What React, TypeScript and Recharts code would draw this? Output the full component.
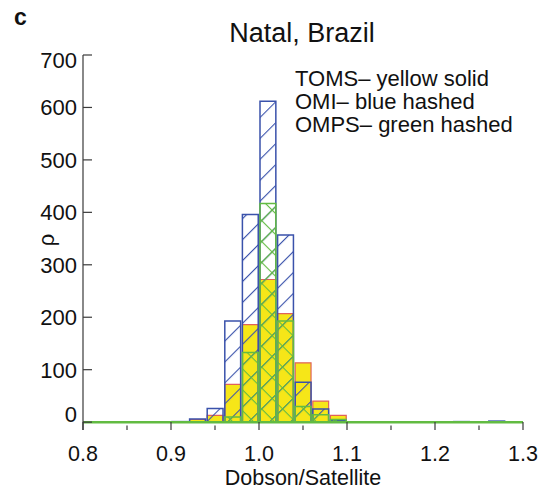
import { Bar, ComposedChart, ReferenceLine, XAxis, YAxis } from "recharts";

// bin centres (bin width 0.02)
const binCenters = [0.91, 0.93, 0.95, 0.97, 0.99, 1.01, 1.03, 1.05, 1.07, 1.09, 1.13, 1.23, 1.27];
const tomsCounts = [1, 5, 13, 72, 186, 272, 207, 113, 40, 13, 1, 0, 0];
const omiCounts = [1, 6, 26, 193, 396, 612, 357, 76, 25, 3, 0, 1, 2];
const ompsCounts = [0, 0, 0, 10, 133, 417, 193, 30, 14, 5, 0, 0, 0];

const xTicks = [0.8, 0.85, 0.9, 0.95, 1.0, 1.05, 1.1, 1.15, 1.2, 1.25, 1.3];
const xMajorTicks = [0.8, 0.9, 1.0, 1.1, 1.2, 1.3];
const yTicks = [0, 100, 200, 300, 400, 500, 600, 700];
const legendLines = ["TOMS– yellow solid", "OMI– blue hashed", "OMPS– green hashed"];

const data = binCenters.map((x, i) => ({ x, toms: tomsCounts[i], omi: omiCounts[i], omps: ompsCounts[i] }));

const FONT = "'Liberation Sans', Arial, Helvetica, sans-serif";
const AXIS = "#3a3a3a";
const BLUE = "#3a52ab";
const GREEN = "#62bb42";
const BAR_PX = 17.6; // 0.02 in x units at 880 px per unit

const isMajor = (v: number) => xMajorTicks.some((m) => Math.abs(m - v) < 1e-6);

const BottomTick = ({ x, y, payload }: any) => {
  const major = isMajor(payload.value);
  return (
    <g>
      <line x1={x} x2={x} y1={y} y2={y - (major ? 8 : 4.5)} stroke={AXIS} strokeWidth={1.2} />
      {major && (
        <text x={x} y={y + 31} textAnchor="middle" fontSize={21.5} fontFamily={FONT} fill="#111">
          {payload.value.toFixed(1)}
        </text>
      )}
    </g>
  );
};

const TopTick = ({ x, y, payload }: any) =>
  isMajor(payload.value) ? <line x1={x} x2={x} y1={y} y2={y + 8} stroke={AXIS} strokeWidth={1.2} /> : <g />;

const LeftTick = ({ x, y, payload }: any) => {
  const v = payload.value;
  const dy = v === 700 ? 13 : v === 0 ? 0 : 8;
  return (
    <g>
      <line x1={x} x2={x + 9} y1={y} y2={y} stroke={AXIS} strokeWidth={1.2} />
      <text x={x - 6} y={y + dy} textAnchor="end" fontSize={22} fontFamily={FONT} fill="#111">
        {v}
      </text>
    </g>
  );
};

const RightTick = ({ x, y }: any) => <line x1={x} x2={x - 8} y1={y} y2={y} stroke={AXIS} strokeWidth={1.2} />;

export default function App() {
  return (
    <div style={{ position: "absolute", left: 0, top: 0, width: 542, height: 492, background: "#fff" }}>
      <ComposedChart width={542} height={492} data={data} margin={{ top: 55, right: 19, left: 23, bottom: 22 }}>
        <defs>
          <pattern id="omiHatch" patternUnits="userSpaceOnUse" width={14.8} height={14.8} patternTransform="rotate(45)">
            <line x1={0} y1={0} x2={0} y2={14.8} stroke={BLUE} strokeWidth={2.2} />
          </pattern>
          <pattern id="ompsHatch" patternUnits="userSpaceOnUse" width={14.8} height={14.8} patternTransform="rotate(45)">
            <line x1={0} y1={0} x2={0} y2={14.8} stroke={GREEN} strokeWidth={2.2} />
            <line x1={0} y1={0} x2={14.8} y2={0} stroke={GREEN} strokeWidth={2.2} />
          </pattern>
        </defs>
        <XAxis
          xAxisId="bottom"
          type="number"
          dataKey="x"
          domain={[0.8, 1.3]}
          ticks={xTicks}
          interval={0}
          height={40}
          axisLine={false}
          tickLine={false}
          tickSize={0}
          tickMargin={0}
          tick={<BottomTick />}
          allowDataOverflow
        />
        <XAxis
          xAxisId="top"
          orientation="top"
          type="number"
          dataKey="x"
          domain={[0.8, 1.3]}
          ticks={xTicks}
          interval={0}
          height={0}
          axisLine={{ stroke: AXIS, strokeWidth: 1.2 }}
          tickLine={false}
          tickSize={0}
          tickMargin={0}
          tick={<TopTick />}
          allowDataOverflow
        />
        <XAxis xAxisId="omi" type="number" dataKey="x" domain={[0.8, 1.3]} hide allowDataOverflow />
        <XAxis xAxisId="omps" type="number" dataKey="x" domain={[0.8, 1.3]} hide allowDataOverflow />
        <YAxis
          yAxisId="left"
          domain={[-15, 700]}
          ticks={yTicks}
          interval={0}
          width={60}
          axisLine={{ stroke: AXIS, strokeWidth: 1.2 }}
          tickLine={false}
          tickSize={0}
          tickMargin={0}
          tick={<LeftTick />}
          allowDataOverflow
        />
        <YAxis
          yAxisId="right"
          orientation="right"
          domain={[-15, 700]}
          ticks={yTicks}
          interval={0}
          width={0}
          axisLine={{ stroke: AXIS, strokeWidth: 1.2 }}
          tickLine={false}
          tickSize={0}
          tickMargin={0}
          tick={<RightTick />}
          allowDataOverflow
        />
        <Bar xAxisId="bottom" yAxisId="left" dataKey="toms" barSize={BAR_PX} fill="#f6e618" stroke="#e0625a" strokeWidth={1.2} isAnimationActive={false} />
        <Bar xAxisId="omi" yAxisId="left" dataKey="omi" barSize={BAR_PX} fill="url(#omiHatch)" stroke={BLUE} strokeWidth={1.5} isAnimationActive={false} />
        <Bar xAxisId="omps" yAxisId="left" dataKey="omps" barSize={BAR_PX} fill="url(#ompsHatch)" stroke={GREEN} strokeWidth={1.5} isAnimationActive={false} />
        <ReferenceLine xAxisId="bottom" yAxisId="left" y={0} stroke={GREEN} strokeWidth={2.5} />
      </ComposedChart>
      <svg width={542} height={492} style={{ position: "absolute", left: 0, top: 0, pointerEvents: "none" }} fontFamily={FONT} fill="#111">
        <text x={14} y={25} fontSize={23} fontWeight="bold">c</text>
        <text x={302} y={42} fontSize={27} textAnchor="middle">Natal, Brazil</text>
        {legendLines.map((t, i) => (
          <text key={t} x={295} y={86 + i * 23} fontSize={22}>{t}</text>
        ))}
        <text x={303} y={485} fontSize={21.5} textAnchor="middle">Dobson/Satellite</text>
        <text x={0} y={0} fontSize={22} textAnchor="middle" transform="translate(54,240) rotate(-90)">ρ</text>
      </svg>
    </div>
  );
}
